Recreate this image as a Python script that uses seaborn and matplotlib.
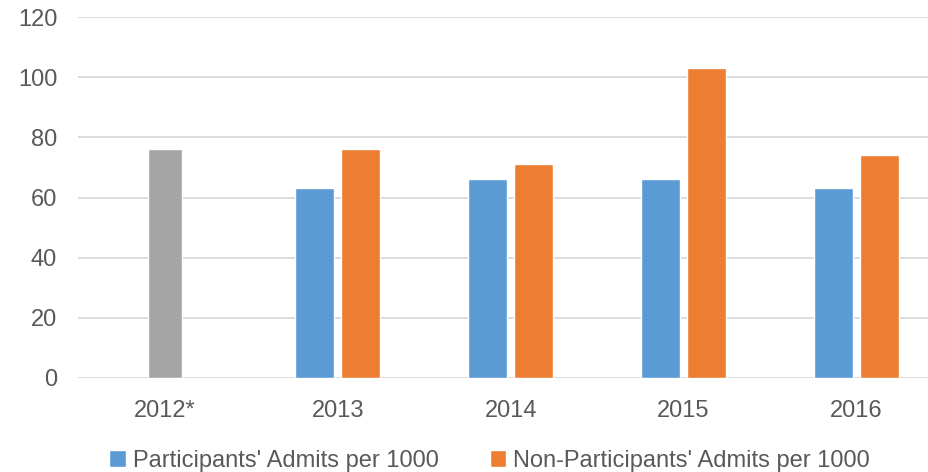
import pandas as pd
import seaborn as sns
import matplotlib.pyplot as plt

# data
categories = ["2012*", "2013", "2014", "2015", "2016"]
years = ["2013", "2014", "2015", "2016"]
participants = [63, 66, 66, 63]
non_participants = [76, 71, 103, 74]
baseline_cat = ["2012*"]
baseline_val = [76]
series = ["Participants' Admits per 1000", "Non-Participants' Admits per 1000"]

df = pd.DataFrame({
    "year": years * 2,
    "value": participants + non_participants,
    "series": [series[0]] * len(years) + [series[1]] * len(years),
})
base = pd.DataFrame({"year": baseline_cat, "value": baseline_val})

sns.set_style("white")
plt.rcParams["font.family"] = ["Liberation Sans", "DejaVu Sans"]
text_col = "#595959"

fig = plt.figure(figsize=(9.29, 4.72), dpi=100)
ax = fig.add_axes([78 / 929, 1 - 378 / 472, (929 - 78) / 929, (378 - 17) / 472])

sns.barplot(data=df, x="year", y="value", hue="series", order=categories,
            hue_order=series, palette=["#5B9BD5", "#ED7D31"], saturation=1,
            width=0.53, gap=0.15, errorbar=None, legend=True, ax=ax, zorder=3)
sns.barplot(data=base, x="year", y="value", order=categories, color="#A5A5A5",
            saturation=1, width=0.2, errorbar=None, ax=ax, zorder=3)

ax.set_ylim(0, 120)
ax.set_yticks(range(0, 121, 20))
ax.set_xlim(-0.503, 4.42)
ax.grid(axis="y", color="#D9D9D9", linewidth=1.3, zorder=0)
ax.set_axisbelow(True)
sns.despine(ax=ax, left=True, bottom=True)
ax.set_xlabel("")
ax.set_ylabel("")
ax.tick_params(axis="y", length=0, pad=15, labelsize=17, labelcolor=text_col)
ax.tick_params(axis="x", length=0, pad=16, labelsize=17, labelcolor=text_col)

handles, labels = ax.get_legend_handles_labels()
ax.get_legend().remove()
fig.legend(handles[:2], labels[:2], loc="lower center", bbox_to_anchor=(0.527, -0.045),
           ncol=2, frameon=False, fontsize=17, labelcolor=text_col,
           handlelength=0.7, handleheight=0.7, handletextpad=0.3, columnspacing=2.15)

fig.savefig("out.png", dpi=100)
